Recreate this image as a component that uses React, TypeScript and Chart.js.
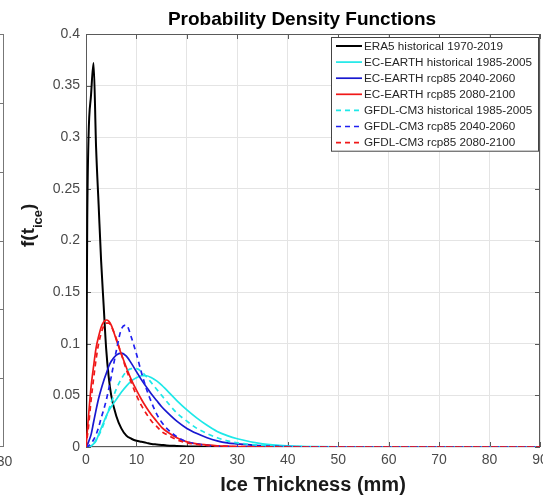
import React, { useEffect, useRef } from 'react';
import { Chart, registerables } from 'chart.js';

Chart.register(...registerables);

// Ice thickness (mm) sample positions
const thickness = [0, 0.25, 0.5, 1, 1.5, 2, 2.5, 3, 3.5, 4, 4.5, 5, 6, 7, 8, 9, 10, 11, 12, 13, 14, 15, 16, 18, 20, 22, 24, 26, 28, 30, 35, 40, 45, 50, 60, 70, 80, 90];

const era5Hist = [0, 0.22, 0.30, 0.341, 0.372, 0.29, 0.235, 0.18, 0.137, 0.095, 0.068, 0.05, 0.03, 0.018, 0.011, 0.008, 0.006, 0.005, 0.004, 0.003, 0.0025, 0.002, 0.0015, 0.001, 0.0006, 0.0004, 0.0003, 0.0002, 0.0001, 0.0001, 0, 0, 0, 0, 0, 0, 0, 0];
const ecHist = [0, 0, 0, 0.001, 0.003, 0.006, 0.012, 0.018, 0.024, 0.03, 0.035, 0.039, 0.046, 0.053, 0.059, 0.064, 0.067, 0.069, 0.069, 0.067, 0.064, 0.06, 0.055, 0.045, 0.036, 0.028, 0.021, 0.015, 0.011, 0.008, 0.003, 0.001, 0.0004, 0.0001, 0, 0, 0, 0];
const ec2040 = [0, 0.002, 0.005, 0.012, 0.024, 0.036, 0.047, 0.056, 0.064, 0.071, 0.078, 0.083, 0.089, 0.091, 0.088, 0.081, 0.073, 0.065, 0.058, 0.051, 0.045, 0.039, 0.034, 0.025, 0.018, 0.013, 0.009, 0.006, 0.004, 0.003, 0.001, 0.0003, 0.0001, 0, 0, 0, 0, 0];
const ec2080 = [0, 0.015, 0.03, 0.058, 0.078, 0.096, 0.107, 0.116, 0.121, 0.123, 0.122, 0.118, 0.104, 0.09, 0.077, 0.065, 0.055, 0.046, 0.038, 0.031, 0.025, 0.019, 0.015, 0.009, 0.005, 0.003, 0.002, 0.0012, 0.0008, 0.0005, 0.0002, 0, 0, 0, 0, 0, 0, 0];
const gfdlHist = [0, 0, 0, 0.001, 0.003, 0.007, 0.011, 0.016, 0.022, 0.029, 0.036, 0.043, 0.056, 0.066, 0.073, 0.076, 0.076, 0.073, 0.068, 0.062, 0.056, 0.05, 0.044, 0.033, 0.025, 0.018, 0.013, 0.009, 0.006, 0.004, 0.0015, 0.0005, 0.0002, 0, 0, 0, 0, 0];
const gfdl2040 = [0, 0, 0.001, 0.003, 0.007, 0.012, 0.019, 0.028, 0.036, 0.045, 0.056, 0.068, 0.093, 0.114, 0.118, 0.106, 0.09, 0.072, 0.056, 0.043, 0.032, 0.024, 0.018, 0.01, 0.005, 0.003, 0.0015, 0.0008, 0.0004, 0.0002, 0, 0, 0, 0, 0, 0, 0, 0];
const gfdl2080 = [0, 0.01, 0.02, 0.045, 0.066, 0.085, 0.1, 0.11, 0.117, 0.12, 0.12, 0.117, 0.105, 0.09, 0.075, 0.062, 0.05, 0.04, 0.032, 0.025, 0.02, 0.015, 0.012, 0.007, 0.004, 0.0025, 0.0015, 0.001, 0.0006, 0.0004, 0.0001, 0, 0, 0, 0, 0, 0, 0];

const seriesLabels = [
  'ERA5 historical 1970-2019',
  'EC-EARTH historical 1985-2005',
  'EC-EARTH rcp85 2040-2060',
  'EC-EARTH rcp85 2080-2100',
  'GFDL-CM3 historical 1985-2005',
  'GFDL-CM3 rcp85 2040-2060',
  'GFDL-CM3 rcp85 2080-2100',
];
const seriesValues = [era5Hist, ecHist, ec2040, ec2080, gfdlHist, gfdl2040, gfdl2080];
const seriesColors = ['#000000', '#1ee8e8', '#1818d0', '#f01818', '#1ee8e8', '#2020f0', '#f01818'];
const seriesDashed = [false, false, false, false, true, true, true];

const xTicksStep = 10;
const yTicksStep = 0.05;
const titleText = 'Probability Density Functions';
const xTitleText = 'Ice Thickness (mm)';
const FONT = "'Liberation Sans', Arial, sans-serif";

const decorPlugin = {
  id: 'matlabDecor',
  beforeDatasetsDraw(chart: any) {
    const { ctx, chartArea } = chart;
    const { left, right, top, bottom } = chartArea;
    ctx.save();
    ctx.strokeStyle = '#5a5a5a';
    ctx.lineWidth = 1;
    ctx.strokeRect(Math.round(left) + 0.5, Math.round(top) + 0.5, Math.round(right - left) - 1, Math.round(bottom - top) - 1);
    const xs = chart.scales.x;
    const ys = chart.scales.y;
    ctx.beginPath();
    xs.ticks.forEach((t: any) => {
      const p = Math.round(xs.getPixelForValue(t.value)) + 0.5;
      ctx.moveTo(p, bottom); ctx.lineTo(p, bottom - 5);
      ctx.moveTo(p, top); ctx.lineTo(p, top + 5);
    });
    ys.ticks.forEach((t: any) => {
      const p = Math.round(ys.getPixelForValue(t.value)) + 0.5;
      ctx.moveTo(left, p); ctx.lineTo(left + 5, p);
      ctx.moveTo(right, p); ctx.lineTo(right - 5, p);
    });
    ctx.stroke();
    ctx.restore();
  },
  afterDraw(chart: any) {
    const { ctx, chartArea } = chart;
    const { left, right, top, bottom } = chartArea;
    ctx.save();
    // legend
    const lx0 = 331, lx1 = right - 1, ly0 = top + 3, rowH = 16.1;
    const n = chart.data.datasets.length;
    const ly1 = ly0 + rowH * n + 2;
    ctx.fillStyle = '#ffffff';
    ctx.fillRect(lx0, ly0, lx1 - lx0, ly1 - ly0);
    ctx.strokeStyle = '#444';
    ctx.lineWidth = 1;
    ctx.strokeRect(lx0 + 0.5, ly0 + 0.5, lx1 - lx0 - 1, ly1 - ly0 - 1);
    chart.data.datasets.forEach((ds: any, i: number) => {
      const y = ly0 + 9 + i * rowH;
      ctx.strokeStyle = ds.borderColor;
      ctx.lineWidth = ds.borderWidth;
      ctx.setLineDash(ds.borderDash || []);
      ctx.beginPath();
      ctx.moveTo(lx0 + 5, y);
      ctx.lineTo(lx0 + 31, y);
      ctx.stroke();
      ctx.setLineDash([]);
      ctx.fillStyle = '#262626';
      ctx.font = `11.7px ${FONT}`;
      ctx.textAlign = 'left';
      ctx.textBaseline = 'middle';
      ctx.fillText(ds.label, lx0 + 33, y + 0.5);
    });
    // title
    ctx.fillStyle = '#000';
    ctx.font = `bold 19px ${FONT}`;
    ctx.textAlign = 'center';
    ctx.textBaseline = 'alphabetic';
    ctx.fillText(titleText, 302, 25);
    // x title
    ctx.fillStyle = '#1a1a1a';
    ctx.font = `bold 20px ${FONT}`;
    ctx.fillText(xTitleText, (left + right) / 2, 491);
    // y title f(t_ice)
    ctx.save();
    ctx.translate(34, 247);
    ctx.rotate(-Math.PI / 2);
    ctx.textAlign = 'left';
    ctx.font = `bold 19px ${FONT}`;
    ctx.fillText('f(t', 0, 0);
    const w1 = ctx.measureText('f(t').width;
    ctx.font = `bold 13px ${FONT}`;
    ctx.fillText('ice', w1, 8);
    const w2 = ctx.measureText('ice').width;
    ctx.font = `bold 19px ${FONT}`;
    ctx.fillText(')', w1 + w2, 0);
    ctx.restore();
    // fragment of neighbouring panel at the left edge
    ctx.strokeStyle = '#777';
    ctx.lineWidth = 1;
    ctx.beginPath();
    ctx.moveTo(0, top + 0.5); ctx.lineTo(3.5, top + 0.5);
    ctx.moveTo(3.5, top); ctx.lineTo(3.5, bottom);
    ctx.moveTo(0, bottom - 0.5); ctx.lineTo(3.5, bottom - 0.5);
    const step = (bottom - top) / 6;
    for (let k = 1; k < 6; k++) {
      const yy = Math.round(top + k * step) + 0.5;
      ctx.moveTo(0, yy); ctx.lineTo(3.5, yy);
    }
    ctx.stroke();
    ctx.fillStyle = '#4a4a4a';
    ctx.font = `14px ${FONT}`;
    ctx.textAlign = 'center';
    ctx.textBaseline = 'middle';
    ctx.fillText('30', 4.5, 462);
    ctx.restore();
  },
};

export default function App() {
  const ref = useRef<HTMLCanvasElement | null>(null);
  useEffect(() => {
    if (!ref.current) return;
    const datasets = seriesLabels.map((label, i) => ({
      label,
      data: thickness.map((x, j) => ({ x, y: seriesValues[i][j] })),
      borderColor: seriesColors[i],
      backgroundColor: seriesColors[i],
      borderWidth: i === 0 ? 2 : 1.7,
      borderDash: seriesDashed[i] ? [5, 4] : [],
      pointRadius: 0,
      fill: false,
      cubicInterpolationMode: 'monotone' as const,
      order: seriesLabels.length - i,
    }));
    const chart = new Chart(ref.current, {
      type: 'line',
      data: { datasets },
      plugins: [decorPlugin],
      options: {
        animation: false,
        responsive: false,
        devicePixelRatio: 1,
        layout: { padding: { top: 34, right: 3, left: 0, bottom: 0 } },
        plugins: { legend: { display: false }, title: { display: false }, tooltip: { enabled: false } },
        scales: {
          x: {
            type: 'linear',
            min: 0,
            max: 90,
            ticks: { stepSize: xTicksStep, color: '#4a4a4a', font: { family: FONT, size: 14 }, padding: 5, maxRotation: 0, autoSkip: false },
            grid: { color: '#e4e4e4', drawTicks: false },
            border: { display: false },
            afterFit: (s: any) => { s.height = 50; s.paddingRight = 0; s.paddingLeft = 0; },
          },
          y: {
            min: 0,
            max: 0.4,
            ticks: {
              stepSize: yTicksStep,
              color: '#4a4a4a',
              font: { family: FONT, size: 14 },
              padding: 6,
              callback: (v: any) => String(Math.round(Number(v) * 100) / 100),
            },
            grid: { color: '#e4e4e4', drawTicks: false },
            border: { display: false },
            afterFit: (s: any) => { s.width = 86; },
          },
        },
      },
    });
    return () => chart.destroy();
  }, []);
  return (
    <div style={{ position: 'fixed', left: 0, top: 0, width: 543, height: 497, background: '#fff' }}>
      <canvas ref={ref} width={543} height={497} style={{ display: 'block' }} />
    </div>
  );
}
